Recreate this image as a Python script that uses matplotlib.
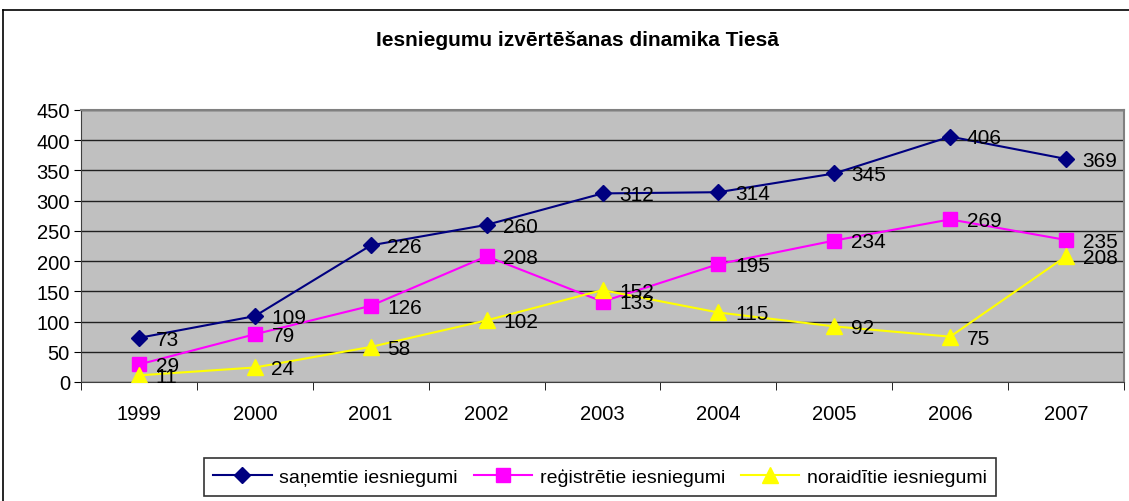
import matplotlib
matplotlib.use("Agg")
import matplotlib.pyplot as plt
from matplotlib.lines import Line2D
import numpy as np

plt.rcParams['font.family'] = ['Liberation Sans', 'DejaVu Sans']

years = ["1999", "2000", "2001", "2002", "2003", "2004", "2005", "2006", "2007"]
sanemtie = [73, 109, 226, 260, 312, 314, 345, 406, 369]
registretie = [29, 79, 126, 208, 133, 195, 234, 269, 235]
noraiditie = [11, 24, 58, 102, 152, 115, 92, 75, 208]

W, H = 1129, 502
fig = plt.figure(figsize=(W / 100, H / 100), dpi=100)

# outer chart frame (only top and left edges are inside the picture)
fig.lines.append(Line2D([3 / W, 1], [1 - 11 / H, 1 - 11 / H], transform=fig.transFigure,
                        color='black', linewidth=1.2))
fig.lines.append(Line2D([3 / W, 3 / W], [0, 1 - 11 / H], transform=fig.transFigure,
                        color='black', linewidth=1.2))

ax = fig.add_axes([81 / W, 1 - 383 / H, (1124 - 81) / W, (383 - 111) / H])
ax.set_facecolor('#C0C0C0')
x = np.arange(len(years))

series = [
    (sanemtie, 'saņemtie iesniegumi', '#000080', 'D', 8),
    (registretie, 'reģistrētie iesniegumi', '#FF00FF', 's', 10),
    (noraiditie, 'noraidītie iesniegumi', '#FFFF00', '^', 11),
]
for vals, lab, col, mk, ms in series:
    ax.plot(x, vals, color=col, marker=mk, markersize=ms, linewidth=1.5, label=lab,
            markeredgecolor=col, zorder=3)
    for xi, v in zip(x, vals):
        ax.annotate(str(v), (xi, v), xytext=(12, -1), textcoords='offset points',
                    ha='left', va='center', fontsize=15, zorder=4)

ax.set_ylim(0, 450)
ax.set_yticks(np.arange(0, 451, 50))
ax.set_xlim(-0.5, len(years) - 0.5)
ax.set_xticks(x)
ax.set_xticklabels(years)
ax.set_xticks(np.arange(-0.5, len(years), 1), minor=True)
ax.tick_params(axis='x', which='major', length=0, pad=16, labelsize=14.5)
ax.tick_params(axis='x', which='minor', length=6, direction='out')
ax.tick_params(axis='y', length=5, direction='out', pad=3, labelsize=14.5)
ax.yaxis.grid(True, color='#202020', linewidth=1)
ax.set_axisbelow(True)
for s in ['top', 'right']:
    ax.spines[s].set_color('#808080')
    ax.spines[s].set_linewidth(1.5)
for s in ['left', 'bottom']:
    ax.spines[s].set_color('#404040')

fig.text(577 / W, 1 - 40 / H, 'Iesniegumu izvērtēšanas dinamika Tiesā',
         ha='center', va='center', fontsize=15, fontweight='bold')

leg = fig.legend(loc='center', bbox_to_anchor=(600 / W, 1 - 478 / H), ncol=3,
                 fontsize=14, frameon=True, fancybox=False, edgecolor='black',
                 handlelength=3, columnspacing=0.8, handletextpad=0.4,
                 borderpad=0.5)
leg.get_frame().set_linewidth(1.2)

plt.savefig('out.png', dpi=100)
plt.close()
